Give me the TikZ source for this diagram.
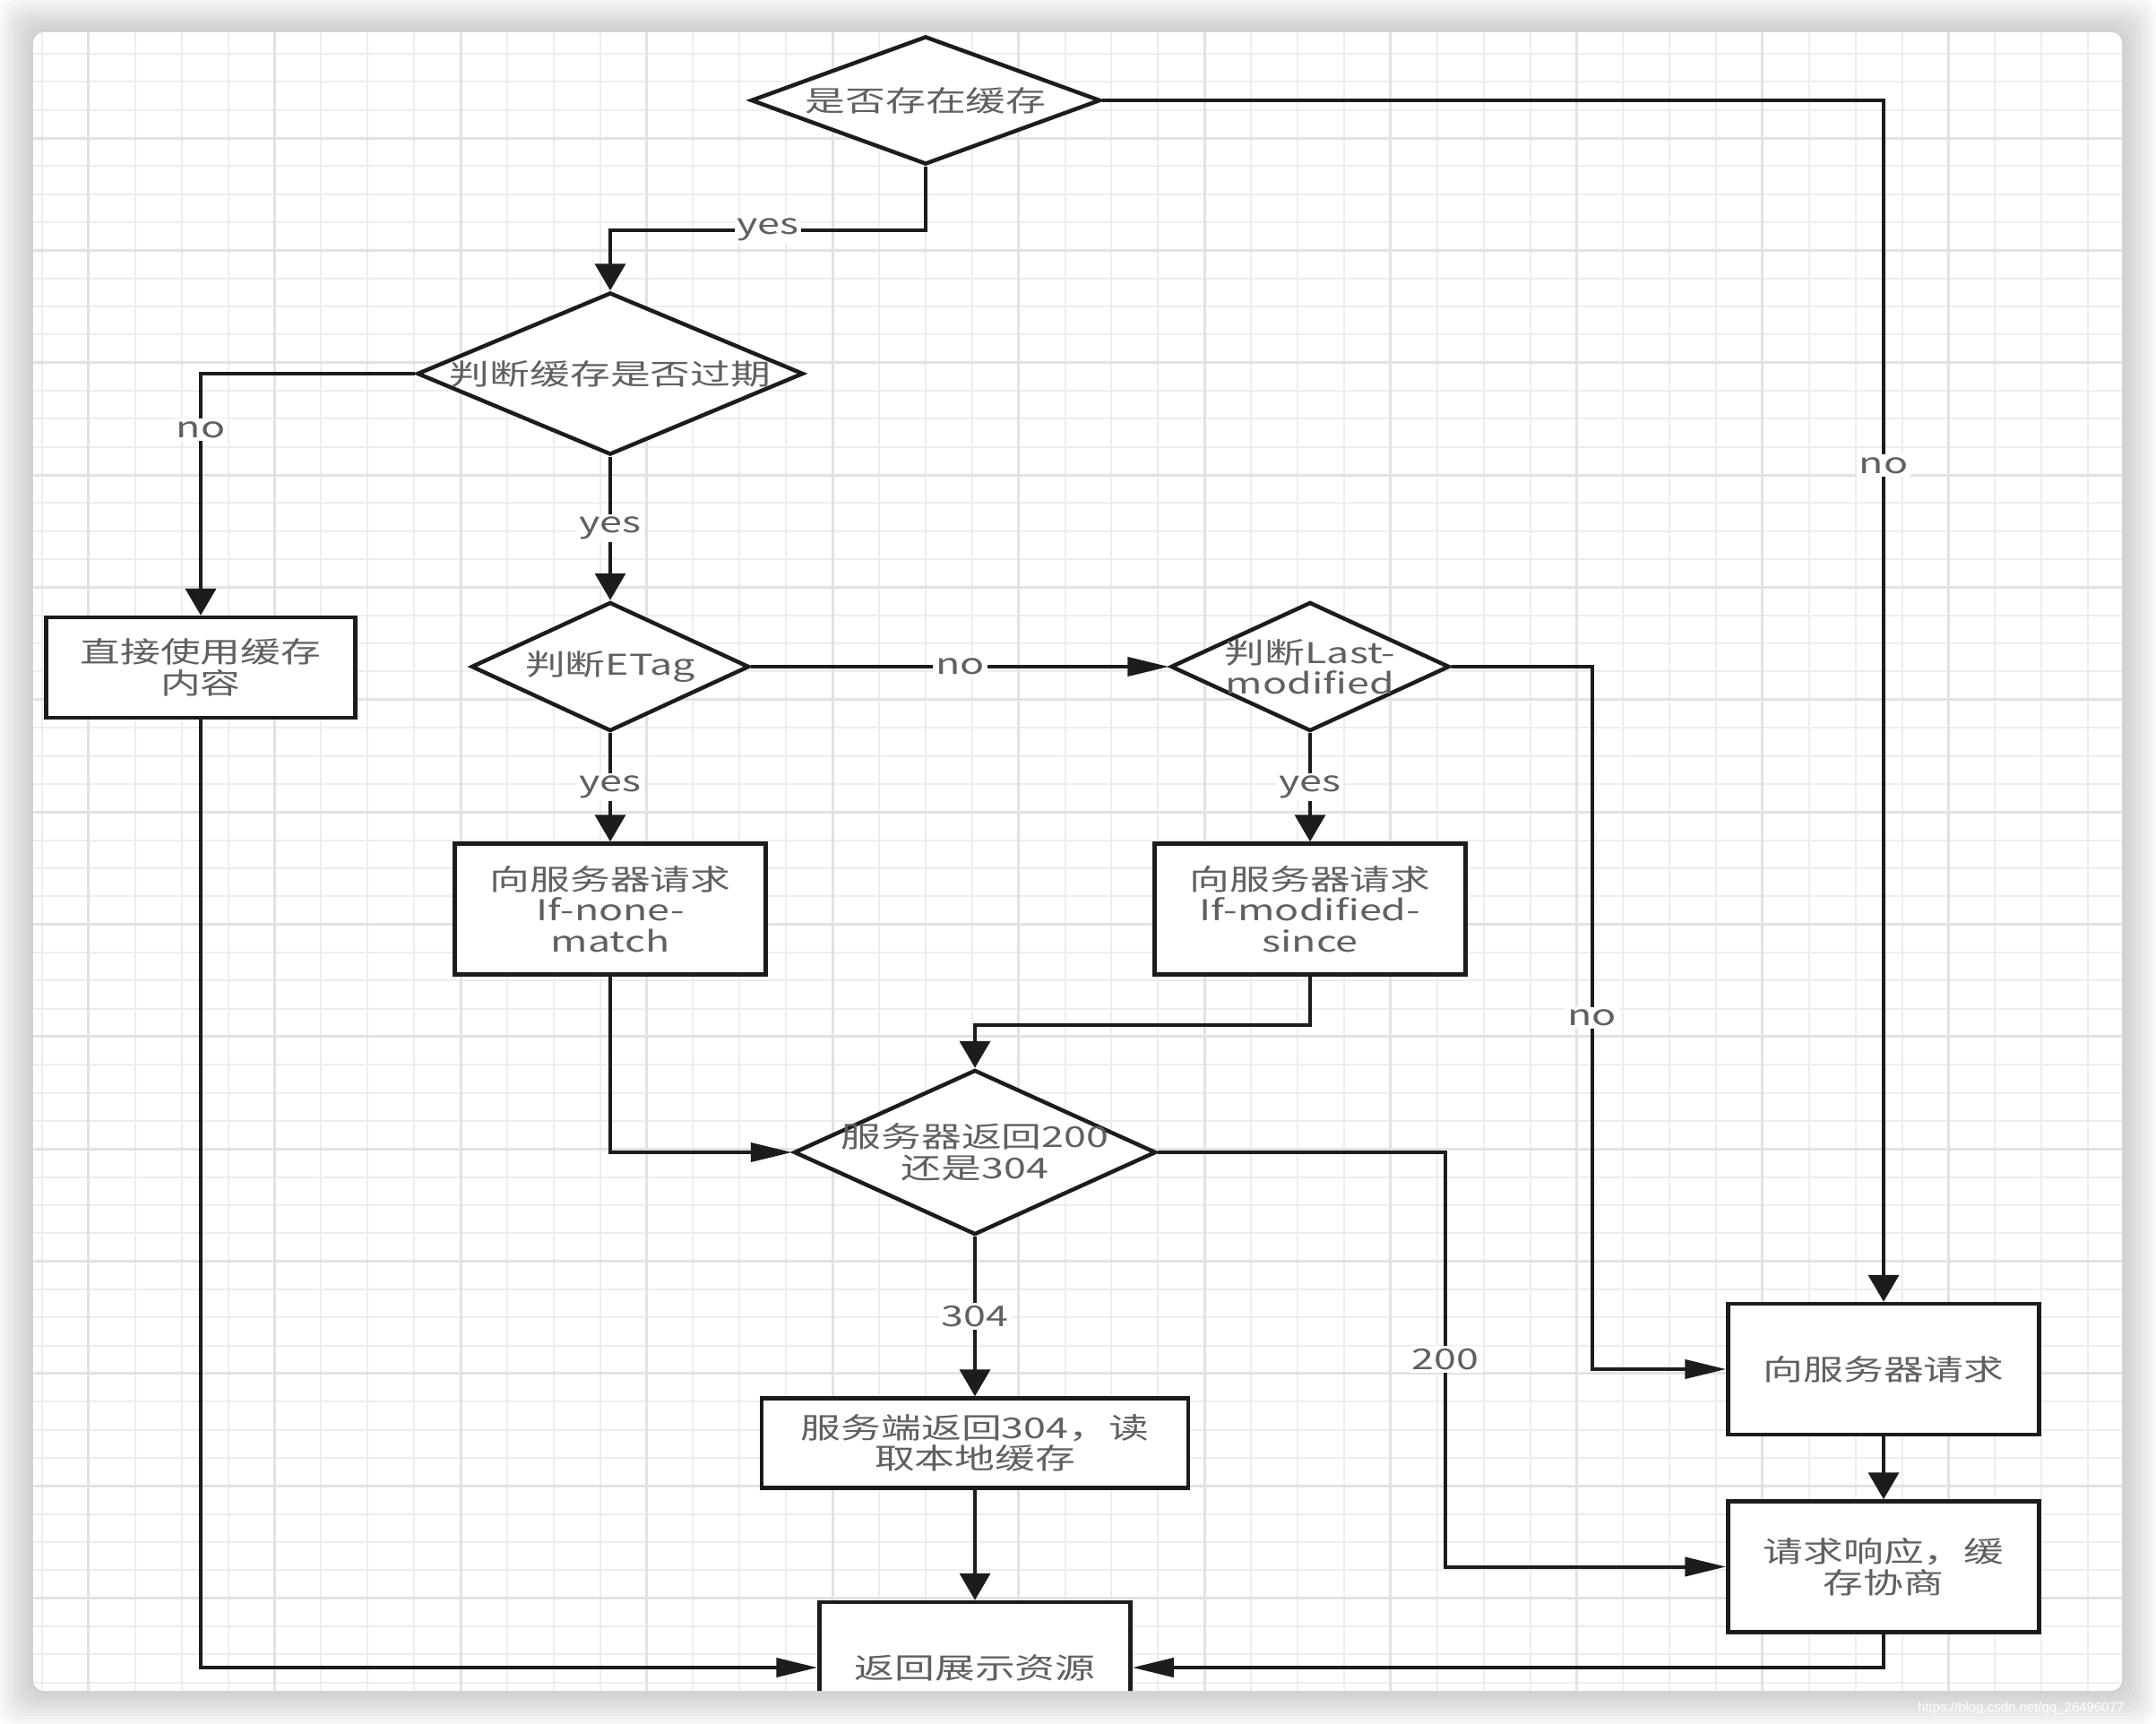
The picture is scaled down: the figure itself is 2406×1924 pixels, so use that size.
\documentclass[tikz,border=0pt]{standalone}
\usepackage{fontspec}
\setmainfont[FakeStretch=1.4]{Noto Sans CJK SC}
\newfontfamily\markfont{Liberation Sans}
\usetikzlibrary{arrows.meta,positioning,shapes.geometric,calc}
\definecolor{gridminor}{RGB}{237,237,237}
\definecolor{gridmajor}{RGB}{226,226,226}
\definecolor{inkline}{RGB}{28,28,28}
\definecolor{inktext}{RGB}{96,96,96}
\tikzset{
  shapebase/.style={
    draw=inkline,
    line width=4.5pt,
    fill=white,
    text=inktext,
    align=center,
    inner sep=0pt,
    font=\fontsize{32}{34.5}\selectfont
  },
  box/.style={shapebase, rectangle, minimum width=347pt, minimum height=146pt},
  dia/.style={shapebase, diamond},
  dtext/.style={text=inktext, align=center, inner sep=0pt, font=\fontsize{32}{34.5}\selectfont},
  lab/.style={fill=white, text=inktext, inner sep=3pt, font=\fontsize{32}{34}\selectfont},
  line/.style={draw=inkline, line width=4pt},
  arrv/.style={line, -{Triangle[length=30pt,width=34pt]}},
  arrh/.style={line, -{Triangle[length=46pt,width=21pt]}}
}

\begin{document}
\begin{tikzpicture}[x=1pt,y=1pt]
        \useasboundingbox (0,0) rectangle (2406,-1924);
        \clip (0,0) rectangle (2406,-1924);
        % shadow and canvas
        \foreach \s in {4,8,...,40}
          \fill[black, opacity=0.018, rounded corners=20pt] (37-\s,-36+\s) rectangle (2368+\s,-1887-\s);
        \fill[white, rounded corners=12pt] (37,-36) rectangle (2368,-1887);
        \node[font=\markfont\fontsize{15}{15}\selectfont, text=white, anchor=base west, inner sep=0pt] (mark) at (2140,-1910) {https://blog.csdn.net/qq\_26496077};
        \begin{scope}
        \clip[rounded corners=12pt] (37,-36) rectangle (2368,-1887);
        % grid
        \foreach \k in {0,...,44}
          \draw[gridminor, line width=2pt] ({47+51.89*\k},-36) -- ++(0,-1851);
        \foreach \k in {1,...,59}
          \draw[gridminor, line width=2pt] (37,{-28.66-31.34*\k}) -- ++(2331,0);
        \foreach \k in {0,...,10}
          \draw[gridmajor, line width=3pt] ({98.89+207.56*\k},-36) -- ++(0,-1851);
        \foreach \k in {0,...,13}
          \draw[gridmajor, line width=3pt] (37,{-154-125.36*\k}) -- ++(2331,0);

        \node[dia, minimum width=390pt, minimum height=143pt, label={[dtext]center:是否存在缓存}] (d1) at (1033,-112) {};
        \node[dia, minimum width=431pt, minimum height=181pt, label={[dtext]center:判断缓存是否过期}] (d2) at (681,-417) {};
        \node[box, minimum width=345pt, minimum height=112pt] (b1) at (224,-745) {直接使用缓存\\内容};
        \node[dia, minimum width=310pt, minimum height=144pt, below=160pt of d2, label={[dtext]center:判断ETag}] (d3) {};
        \node[dia, minimum width=311pt, minimum height=144pt, right=466pt of d3, label={[dtext]center:{判断Last-\\modified}}] (d4) {};
        \node[box, below=121pt of d3] (b2) {向服务器请求\\If-none-\\match};
        \node[box, below=121pt of d4] (b3) {向服务器请求\\If-modified-\\since};
        \node[dia, minimum width=404pt, minimum height=184pt, label={[dtext]center:{服务器返回200\\还是304}}] (d5) at (1088,-1286) {};
        \node[box, minimum width=476pt, minimum height=100pt, below=178pt of d5] (b4) {服务端返回304，读\\取本地缓存};
        \node[box, below=123pt of b4] (b5) {返回展示资源};
        \node[box] (b6) at (2102,-1528) {向服务器请求};
        \node[box, below=70pt of b6] (b7) {请求响应，缓\\存协商};

        \draw[arrv] (d1.south) -- ++(0,-71) -| node[lab, pos=0.25] {yes} (d2.north);
        \draw[arrv] (d1.east) -| node[lab, pos=0.652] {no} (b6.north);
        \draw[arrv] (d2.west) -| node[lab, pos=0.616] {no} (b1.north);
        \draw[arrv] (d2.south) -- node[lab] {yes} (d3.north);
        \draw[arrh] (d3.east) -- node[lab] {no} (d4.west);
        \draw[arrv] (d3.south) -- node[lab] {yes} (b2.north);
        \draw[arrv] (d4.south) -- node[lab] {yes} (b3.north);
        \draw[arrh] (d4.east) -- ++(157,0) |- node[lab, pos=0.25] {no} (b6.west);
        \draw[arrh] (b2.south) |- (d5.west);
        \draw[arrv] (b3.south) -- ++(0,-54) -| (d5.north);
        \draw[arrh] (d5.east) -- ++(321,0) |- node[lab, pos=0.25] {200} (b7.west);
        \draw[arrv] (d5.south) -- node[lab] {304} (b4.north);
        \draw[arrv] (b4.south) -- (b5.north);
        \draw[arrv] (b6.south) -- (b7.north);
        \draw[arrh] (b7.south) |- (b5.east);
        \draw[arrh] (b1.south) |- (b5.west);
        \end{scope}
      \end{tikzpicture}
\end{document}
